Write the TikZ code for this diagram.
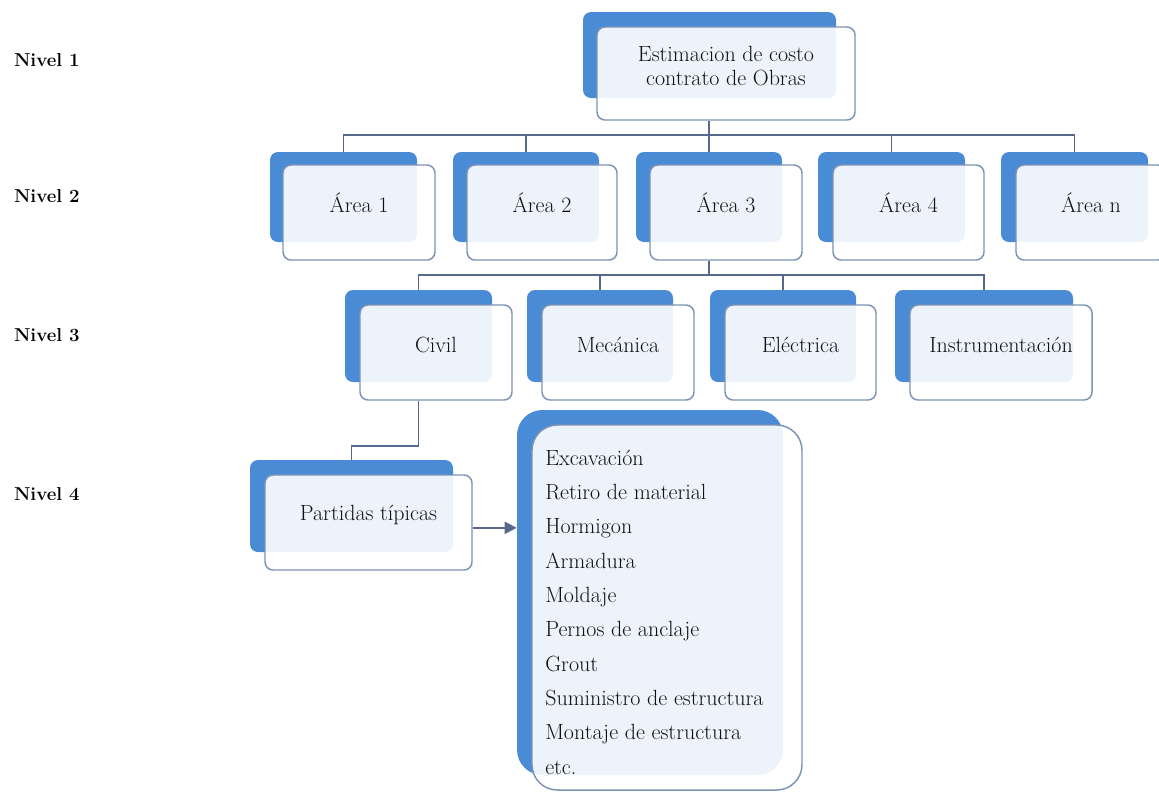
\documentclass[tikz,border=0pt]{standalone}
\usepackage{fontspec}
\usetikzlibrary{fit,arrows.meta}
\definecolor{bk}{HTML}{4A8BD6}
\definecolor{bd}{HTML}{7D93B5}
\definecolor{cn}{HTML}{56698A}
\definecolor{tx}{HTML}{111111}
\begin{document}
\begin{tikzpicture}[x=0.75pt,y=-0.75pt,
  back/.style={fill=bk, draw=none, rounded corners=6pt, inner sep=0pt},
  front/.style={fill=white, fill opacity=0.9, text opacity=1, draw=bd, line width=1.1pt,
     rounded corners=6pt, inner sep=0pt, text=tx, align=center,
     font=\fontsize{16.5}{18}\selectfont},
  conn/.style={draw=cn, line width=1.4pt},
  lvl/.style={font=\bfseries\fontsize{14}{16}\selectfont, text=black, anchor=east, inner sep=0pt},
  listtxt/.style={align=left, text=tx, anchor=west, inner sep=0pt,
     font=\fontsize{16.5}{25.75}\selectfont}]
\useasboundingbox (0,0) rectangle (1159,794);
\fill[white] (0,0) rectangle (1159,794);

% level labels
\node[lvl] (n1) at (80,60) {Nivel 1};
\node[lvl] (n2) at (80,196) {Nivel 2};
\node[lvl] (n3) at (80,335) {Nivel 3};
\node[lvl] (n4) at (80,494) {Nivel 4};

% level 1
\node[back, fit={(583,12)(836,98)}] (l1b) {};
\node[front, fit={(597,27)(855,120)}] (l1) {Estimacion de costo\\contrato de Obras};

% level 2
\node[back, fit={(270,152)(417,242)}] (a1b) {};
\node[front, fit={(283,165)(435,260)}] (a1) {Área 1};
\node[back, fit={(453,152)(599,242)}] (a2b) {};
\node[front, fit={(467,165)(617,260)}] (a2) {Área 2};
\node[back, fit={(636,152)(782,242)}] (a3b) {};
\node[front, fit={(650,165)(802,260)}] (a3) {Área 3};
\node[back, fit={(818,152)(965,242)}] (a4b) {};
\node[front, fit={(833,165)(984,260)}] (a4) {Área 4};
\node[back, fit={(1001,152)(1148,242)}] (anb) {};
\node[front, fit={(1016,165)(1166,260)}] (an) {Área n};

% level 3
\node[back, fit={(345,290)(492,382)}] (civb) {};
\node[front, fit={(360,305)(512,400)}] (civ) {Civil};
\node[back, fit={(527,290)(673,382)}] (mecb) {};
\node[front, fit={(542,305)(694,400)}] (mec) {Mecánica};
\node[back, fit={(710,290)(856,382)}] (eleb) {};
\node[front, fit={(725,305)(876,400)}] (ele) {Eléctrica};
\node[back, fit={(895,290)(1073,382)}] (insb) {};
\node[front, fit={(910,305)(1092,400)}] (ins) {Instrumentación};

% level 4
\node[back, fit={(250,460)(453,552)}] (partb) {};
\node[front, fit={(265,475)(472,570)}] (part) {Partidas típicas};
\node[back, rounded corners=19pt, fit={(517,410)(783,775)}] (bigb) {};
\node[front, rounded corners=19pt, fit={(532,425)(802,790)}] (big) {};
\node[listtxt] (lst) at (545,612) {Excavación\\Retiro de material\\Hormigon\\Armadura\\Moldaje\\Pernos de anclaje\\Grout\\Suministro de estructura\\Montaje de estructura\\etc.};

% connectors
\draw[conn] (l1.south -| a3b.north) -- (a3b.north);
\draw[conn] (a1b.north) -- ++(0,-17) -| (anb.north);
\draw[conn] (a2b.north) -- ++(0,-17);
\draw[conn] (a4b.north) -- ++(0,-17);

\draw[conn] (a3.south -| a3b.north) -- ++(0,15);
\draw[conn] (civb.north) -- ++(0,-15) -| (insb.north);
\draw[conn] (mecb.north) -- ++(0,-15);
\draw[conn] (eleb.north) -- ++(0,-15);

\draw[conn] (civ.south -| civb.north) -- ++(0,45) -| (partb.north);
\draw[conn, -{Triangle[length=9pt,width=9pt]}] ([yshift=-4pt]part.east) -- ([yshift=-4pt]part.east -| bigb.west);
\end{tikzpicture}
\end{document}
